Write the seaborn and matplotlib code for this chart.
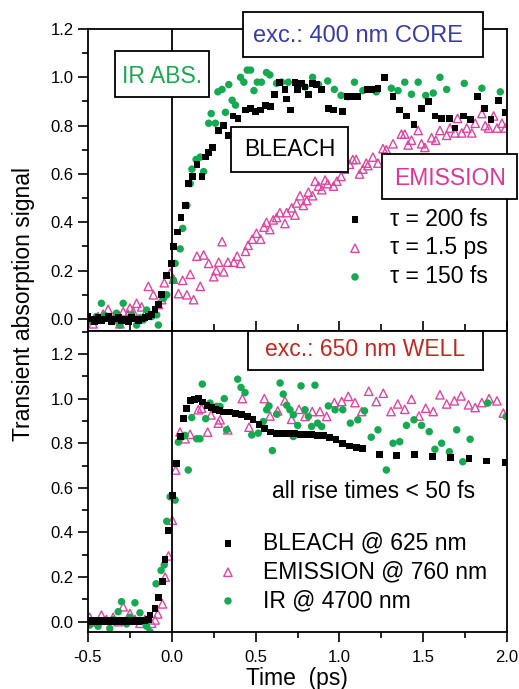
import matplotlib
matplotlib.use("Agg")
import matplotlib.pyplot as plt
from matplotlib.patches import Rectangle
from matplotlib.ticker import MultipleLocator
import seaborn as sns

# ---- top panel: excitation 400 nm (CORE) ----
top_bleach_x = [-0.50, -0.48, -0.46, -0.44, -0.42, -0.40, -0.38, -0.36, -0.34, -0.32,
                -0.30, -0.28, -0.26, -0.24, -0.22, -0.20, -0.18, -0.16, -0.14,
                -0.12, -0.10, -0.08, -0.06, -0.03, 0.0, 0.01, 0.035, 0.055, 0.08,
                0.10, 0.125, 0.15, 0.18, 0.20, 0.22, 0.245, 0.28, 0.31, 0.34,
                0.365, 0.395, 0.44, 0.47, 0.50, 0.53, 0.56, 0.59, 0.615, 0.645,
                0.675, 0.685, 0.71, 0.735, 0.75, 0.775, 0.795, 0.815, 0.84, 0.865,
                0.895, 0.935, 0.965, 1.02, 1.05, 1.08, 1.11, 1.17, 1.19, 1.23,
                1.27, 1.32, 1.36, 1.40, 1.445, 1.49, 1.53, 1.57, 1.61, 1.655,
                1.69, 1.74, 1.78, 1.825, 1.865, 1.905, 1.95, 1.99]
top_bleach_y = [0.01, 0.0, -0.01, 0.005, -0.005, 0.0, 0.01, -0.01, 0.0, 0.005,
                -0.005, 0.0, -0.01, 0.005, 0.0, -0.005, 0.0, 0.005, 0.01,
                0.02, 0.04, 0.06, 0.10, 0.18, 0.23, 0.30, 0.36, 0.42, 0.47,
                0.56, 0.59, 0.64, 0.59, 0.67, 0.69, 0.71, 0.78, 0.80, 0.76,
                0.84, 0.83, 0.865, 0.87, 0.86, 0.865, 0.885, 0.88, 0.93, 0.98,
                0.95, 0.91, 0.865, 0.98, 0.95, 0.975, 0.96, 0.93, 0.975, 0.97,
                0.95, 0.87, 0.865, 0.86, 0.92, 0.92, 0.92, 0.95, 0.95, 0.955,
                1.0, 0.92, 0.865, 0.84, 0.805, 0.87, 0.90, 0.84, 0.83, 0.83,
                0.79, 0.84, 0.825, 0.92, 0.87, 0.825, 0.905, 0.855]

top_emis_x = [-0.50, -0.47, -0.44, -0.41, -0.38, -0.35, -0.31, -0.29, -0.26, -0.25,
              -0.23, -0.21, -0.18, -0.16, -0.14, -0.11, -0.08, -0.06, -0.045, -0.01,
              0.01, 0.04, 0.065, 0.09, 0.11, 0.13, 0.15, 0.17, 0.19, 0.22,
              0.25, 0.265, 0.28, 0.30, 0.31, 0.335, 0.37, 0.39, 0.41, 0.44,
              0.455, 0.48, 0.505, 0.53, 0.55, 0.565, 0.585, 0.605, 0.625, 0.645,
              0.675, 0.685, 0.715, 0.735, 0.745, 0.765, 0.785, 0.805, 0.815, 0.84,
              0.855, 0.875, 0.895, 0.915, 0.93, 0.965, 0.985, 1.01, 1.03, 1.06,
              1.08, 1.10, 1.12, 1.14, 1.16, 1.17, 1.20, 1.23, 1.26, 1.28,
              1.32, 1.37, 1.39, 1.41, 1.43, 1.47, 1.49, 1.51, 1.55, 1.575,
              1.60, 1.64, 1.66, 1.69, 1.705, 1.73, 1.76, 1.79, 1.81, 1.85,
              1.87, 1.89, 1.92, 1.94, 1.97, 1.99]
top_emis_y = [0.0, -0.02, 0.01, 0.02, 0.04, 0.0, -0.02, 0.03, 0.02, 0.045,
              0.03, 0.065, 0.05, 0.02, 0.135, 0.10, 0.06, 0.08, 0.15, 0.19,
              0.165, 0.105, 0.16, 0.10, 0.185, 0.08, 0.26, 0.135, 0.265, 0.23,
              0.175, 0.20, 0.235, 0.32, 0.195, 0.235, 0.235, 0.26, 0.23, 0.28,
              0.305, 0.33, 0.355, 0.33, 0.38, 0.40, 0.37, 0.41, 0.42, 0.44,
              0.395, 0.44, 0.46, 0.43, 0.48, 0.51, 0.47, 0.49, 0.525, 0.51,
              0.57, 0.55, 0.535, 0.575, 0.56, 0.55, 0.57, 0.59, 0.62, 0.64,
              0.66, 0.66, 0.60, 0.62, 0.645, 0.635, 0.67, 0.645, 0.705, 0.70,
              0.725, 0.765, 0.765, 0.72, 0.74, 0.78, 0.725, 0.71, 0.75, 0.74,
              0.78, 0.76, 0.79, 0.77, 0.83, 0.77, 0.79, 0.77, 0.81, 0.85,
              0.80, 0.79, 0.84, 0.79, 0.81, 0.79]

top_ir_x = [-0.50, -0.48, -0.45, -0.42, -0.40, -0.37, -0.35, -0.33, -0.31, -0.29,
            -0.27, -0.24, -0.21, -0.19, -0.17, -0.15, -0.12, -0.09, -0.08, -0.05,
            -0.03, 0.01, 0.02, 0.05, 0.065, 0.09, 0.11, 0.12, 0.145, 0.17,
            0.19, 0.22, 0.235, 0.26, 0.275, 0.30, 0.32, 0.34, 0.36, 0.38,
            0.41, 0.43, 0.45, 0.47, 0.49, 0.51, 0.535, 0.565, 0.585, 0.625,
            0.655, 0.695, 0.795, 0.84, 0.875, 0.93, 0.97, 1.01, 1.05, 1.09,
            1.14, 1.22, 1.31, 1.35, 1.39, 1.43, 1.47, 1.515, 1.56, 1.60,
            1.64, 1.745, 1.85, 1.96]
top_ir_y = [-0.01, -0.005, 0.01, 0.065, 0.015, 0.003, -0.01, 0.024, -0.025, 0.065,
            0.0, 0.017, -0.025, 0.005, -0.004, 0.037, 0.01, 0.017, -0.025, 0.085,
            0.10, 0.16, 0.23, 0.29, 0.375, 0.47, 0.56, 0.62, 0.66, 0.67,
            0.61, 0.81, 0.85, 0.81, 0.94, 0.95, 0.855, 0.97, 0.905, 0.885,
            1.0, 0.98, 1.03, 1.03, 0.945, 0.98, 0.98, 1.02, 1.01, 0.975,
            0.98, 0.98, 0.96, 1.0, 0.97, 0.985, 0.95, 0.925, 0.92, 0.98,
            0.945, 0.94, 0.955, 0.945, 0.98, 0.93, 0.98, 0.925, 0.935, 1.0,
            0.95, 0.975, 0.955, 0.94]

top_labels = ["\u03c4 = 200 fs", "\u03c4 = 1.5 ps", "\u03c4 = 150 fs"]

# ---- bottom panel: excitation 650 nm (WELL) ----
bot_bleach_x = [-0.50, -0.48, -0.46, -0.44, -0.42, -0.40, -0.38, -0.36, -0.34, -0.32,
                -0.30, -0.28, -0.26, -0.24, -0.22, -0.20, -0.18, -0.16, -0.14,
                -0.13, -0.10, -0.08, -0.056, -0.04, -0.02, 0.003, 0.027, 0.05, 0.07,
                0.09, 0.11, 0.135, 0.16, 0.185, 0.21, 0.235, 0.26, 0.285, 0.31,
                0.345, 0.38, 0.415, 0.45, 0.485, 0.52, 0.555, 0.59, 0.625, 0.66,
                0.695, 0.73, 0.765, 0.80, 0.835, 0.87, 0.905, 0.94, 0.98, 1.02,
                1.06, 1.10, 1.14, 1.24, 1.34, 1.45, 1.556, 1.664, 1.773, 1.879, 1.988]
bot_bleach_y = [0.005, 0.0, 0.005, 0.0, 0.005, 0.0, 0.005, 0.0, 0.005, 0.0,
                0.005, 0.0, 0.005, 0.0, 0.005, 0.0, 0.005, 0.005, 0.01,
                0.03, 0.06, 0.11, 0.18, 0.28, 0.41, 0.565, 0.71, 0.83, 0.91,
                0.955, 0.99, 0.995, 1.0, 0.985, 0.97, 0.96, 0.95, 0.945, 0.94,
                0.94, 0.935, 0.93, 0.92, 0.905, 0.885, 0.865, 0.85, 0.845, 0.845,
                0.843, 0.842, 0.84, 0.84, 0.838, 0.836, 0.833, 0.827, 0.815, 0.80,
                0.788, 0.782, 0.776, 0.75, 0.745, 0.75, 0.74, 0.735, 0.73, 0.72, 0.715]

bot_emis_x = [-0.49, -0.46, -0.42, -0.39, -0.35, -0.32, -0.29, -0.25, -0.22, -0.19,
              -0.16, -0.12, -0.10, -0.084, -0.056, -0.04, -0.02, 0.003, 0.023, 0.049,
              0.079, 0.109, 0.158, 0.178, 0.214, 0.234, 0.277, 0.288, 0.334, 0.421,
              0.461, 0.552, 0.586, 0.632, 0.675, 0.715, 0.759, 0.795, 0.838, 0.884,
              0.924, 0.97, 1.014, 1.053, 1.093, 1.133, 1.175, 1.22, 1.262, 1.308,
              1.348, 1.39, 1.43, 1.475, 1.515, 1.56, 1.60, 1.64, 1.686, 1.726,
              1.77, 1.81, 1.85, 1.893, 1.94, 1.978]
bot_emis_y = [0.02, 0.0, 0.03, 0.01, 0.02, 0.0, 0.067, 0.037, 0.01, -0.007,
              0.01, -0.007, 0.008, 0.035, 0.08, 0.20, 0.295, 0.455, 0.68, 0.85,
              0.82, 0.84, 0.95, 0.957, 0.85, 0.927, 0.89, 0.905, 0.86, 1.0,
              0.872, 1.0, 0.922, 0.945, 0.99, 0.907, 0.952, 0.92, 0.942, 0.942,
              0.92, 0.982, 0.987, 1.01, 0.982, 0.942, 1.033, 0.987, 1.024, 0.942,
              0.976, 0.952, 0.997, 0.922, 0.957, 0.942, 1.017, 0.976, 0.99, 1.012,
              0.972, 0.96, 0.982, 1.0, 0.99, 0.935]

bot_ir_x = [-0.49, -0.46, -0.44, -0.41, -0.37, -0.35, -0.32, -0.30, -0.27, -0.25,
            -0.22, -0.19, -0.17, -0.15, -0.13, -0.094, -0.064, -0.045, -0.03, -0.01,
            0.02, 0.039, 0.065, 0.079, 0.098, 0.119, 0.149, 0.168, 0.182, 0.202,
            0.228, 0.268, 0.288, 0.313, 0.327, 0.393, 0.413, 0.437, 0.477, 0.516,
            0.546, 0.566, 0.58, 0.60, 0.626, 0.646, 0.665, 0.686, 0.705, 0.725,
            0.725, 0.751, 0.771, 0.795, 0.815, 0.834, 0.854, 0.87, 0.894, 0.934,
            0.974, 1.02, 1.065, 1.11, 1.15, 1.19, 1.23, 1.28, 1.32, 1.36,
            1.40, 1.445, 1.49, 1.536, 1.57, 1.61, 1.656, 1.70, 1.736, 1.78,
            1.885, 1.995]
bot_ir_y = [-0.015, 0.0, -0.02, 0.005, -0.03, 0.01, 0.045, 0.09, -0.01, 0.02,
            0.085, 0.04, 0.0, -0.02, -0.045, 0.17, 0.23, 0.255, 0.45, 0.56,
            0.545, 0.805, 0.83, 0.835, 0.68, 0.915, 0.82, 0.82, 1.065, 0.91,
            0.98, 0.965, 0.965, 1.0, 0.86, 1.087, 1.05, 1.027, 0.837, 0.845,
            0.897, 0.95, 0.967, 0.767, 0.93, 1.07, 1.02, 0.97, 0.95, 0.927,
            0.83, 0.88, 1.057, 0.95, 0.92, 0.875, 1.06, 0.89, 0.875, 0.967,
            0.95, 0.95, 0.89, 0.905, 0.945, 0.827, 0.86, 0.68, 0.80, 0.807,
            0.88, 0.905, 0.88, 0.852, 0.773, 0.80, 0.762, 0.86, 0.717, 0.818,
            0.98, 0.92]

bot_labels = ["BLEACH @ 625 nm", "EMISSION @ 760 nm", "IR @ 4700 nm"]

BLACK = "black"
MAG = "#e0449f"
GREEN = "#17a852"

sns.set_style("ticks")
plt.rcParams['font.family'] = ['Liberation Sans', 'DejaVu Sans']
plt.rcParams['axes.unicode_minus'] = False
plt.rcParams['text.color'] = 'black'
plt.rcParams['xtick.color'] = 'black'
plt.rcParams['ytick.color'] = 'black'
plt.rcParams['axes.labelcolor'] = 'black'

W, H = 519, 689
fig = plt.figure(figsize=(W / 100, H / 100), dpi=100)


def fx(px):
    return px / W


def fy(py):
    return 1 - py / H


ax1 = fig.add_axes([fx(88), fy(331), fx(507) - fx(88), fy(29) - fy(331)])
ax2 = fig.add_axes([fx(88), fy(632), fx(507) - fx(88), fy(331) - fy(632)])


def draw_panel(ax, bx, by, ex, ey, gx, gy, labels):
    sns.scatterplot(x=ex, y=ey, ax=ax, marker='^', s=36, color=MAG,
                    facecolor='none', edgecolor=MAG, linewidth=1.0, label=labels[1])
    sns.scatterplot(x=gx, y=gy, ax=ax, marker='o', s=29, color=GREEN,
                    edgecolor='none', label=labels[2])
    sns.scatterplot(x=bx, y=by, ax=ax, marker='s', s=24, color=BLACK,
                    edgecolor='none', label=labels[0])
    ax.axvline(0, color='black', lw=1.3, zorder=1)
    ax.set_xlim(-0.5, 2.0)
    for sp in ax.spines.values():
        sp.set_linewidth(1.3)
        sp.set_color('black')
    ax.yaxis.set_major_locator(MultipleLocator(0.2))
    ax.yaxis.set_minor_locator(MultipleLocator(0.1))
    ax.xaxis.set_major_locator(MultipleLocator(0.5))
    ax.xaxis.set_minor_locator(MultipleLocator(0.25))
    ax.yaxis.set_major_formatter('{x:.1f}')
    ax.xaxis.set_major_formatter('{x:.1f}')
    ax.tick_params(axis='y', which='major', direction='out', length=7.5, width=1.2,
                   labelsize=12, pad=3, right=False, colors='black')
    ax.tick_params(axis='y', which='minor', direction='out', length=4, width=1.2,
                   right=False, colors='black')
    ax.set_xlabel('')
    ax.set_ylabel('')
    handles, labs = ax.get_legend_handles_labels()
    order = [labs.index(l) for l in labels]
    return [handles[i] for i in order]


h1 = draw_panel(ax1, top_bleach_x, top_bleach_y, top_emis_x, top_emis_y,
                top_ir_x, top_ir_y, top_labels)
h2 = draw_panel(ax2, bot_bleach_x, bot_bleach_y, bot_emis_x, bot_emis_y,
                bot_ir_x, bot_ir_y, bot_labels)

ax1.set_ylim(-0.0497, 1.2)
ax2.set_ylim(-0.046, 1.303)
ax2.set_yticks([0.0, 0.2, 0.4, 0.6, 0.8, 1.0, 1.2])

ax1.tick_params(axis='x', which='major', direction='in', length=7, width=1.2,
                labelbottom=False, top=False, colors='black')
ax1.tick_params(axis='x', which='minor', direction='in', length=5, width=1.2,
                top=False, colors='black')
ax2.tick_params(axis='x', which='major', direction='out', length=7, width=1.2,
                labelsize=12, pad=6, top=False, colors='black')
ax2.tick_params(axis='x', which='minor', direction='out', length=4.5, width=1.2,
                top=False, colors='black')

leg_kw = dict(frameon=False, fontsize=16.5, handlelength=1.0, handletextpad=1.05,
              labelspacing=0.25, borderpad=0, borderaxespad=0, scatterpoints=1,
              loc='upper left', bbox_transform=fig.transFigure, labelcolor='black')
ax1.legend(h1, top_labels, bbox_to_anchor=(fx(343.5), fy(207.5)), **leg_kw)
ax2.legend(h2, bot_labels, bbox_to_anchor=(fx(216.5), fy(531.5)), **leg_kw)

# boxed annotations (pixel boxes -> figure fractions)
boxes = [
    ((243, 12, 483, 57), "exc.: 400 nm CORE", "#3b3ba5", 17, 358, 42),
    ((115, 51, 209, 97), "IR ABS.", "#1fa653", 16.5, 162, 83),
    ((231, 127, 348, 172), "BLEACH", "black", 16.5, 290, 156.5),
    ((382, 154, 517, 199), "EMISSION", "#e0349a", 16.5, 450.5, 185),
    ((248, 331, 483, 370), "exc.: 650 nm WELL", "#c2281f", 16.5, 365, 356),
]
for (x0, y0, x1, y1), txt, col, fs, tx, ty in boxes:
    fig.add_artist(Rectangle((fx(x0), fy(y1)), fx(x1) - fx(x0), fy(y0) - fy(y1),
                             transform=fig.transFigure, facecolor='white',
                             edgecolor='black', lw=1.3, zorder=5))
    fig.text(fx(tx), fy(ty), txt, color=col, fontsize=fs, ha='center',
             va='baseline', zorder=6)

fig.text(fx(272), fy(498), "all rise times < 50 fs", fontsize=16.5,
         ha='left', va='baseline', color='black')

fig.text(fx(24), fy(304), "Transient absorption signal", rotation=90,
         fontsize=16.5, ha='center', va='center', color='black')
fig.text(fx(297), fy(685), "Time  (ps)", fontsize=16.5, ha='center',
         va='baseline', color='black')

fig.savefig("out.png", dpi=100, facecolor='white')
